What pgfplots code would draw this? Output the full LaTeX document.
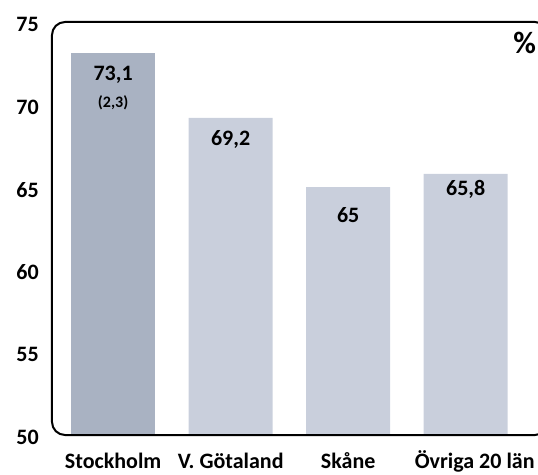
\documentclass[border=0pt]{standalone}
\usepackage{pgfplots}
\pgfplotsset{compat=1.18}
\usepackage{fontspec}
\setmainfont{Carlito}
\definecolor{barA}{RGB}{169,178,194}
\definecolor{barB}{RGB}{201,207,220}
\begin{document}
\begin{tikzpicture}
\begin{axis}[
    scale only axis,
    width=496pt, height=413pt,
    xmin=-0.52, xmax=3.70,
    ymin=50, ymax=75,
    axis line style={draw=none},
    tick style={draw=none},
    ytick={50,55,60,65,70,75},
    xtick={0,1,2,3},
    xticklabels={Stockholm, V. Götaland, Skåne, \hspace*{18pt}Övriga 20 län},
    tick label style={font=\fontsize{22}{24}\selectfont\bfseries, inner sep=0pt},
    /pgf/number format/assume math mode=true,
    yticklabel style={anchor=east, xshift=-13pt, yshift=-2.5pt},
    xticklabel style={anchor=base, yshift=-33pt},
    clip=false,
]
\addplot[ybar, bar width=84pt, bar shift=0pt, fill=barA, draw=none]
    coordinates {(0,73.1)};
\addplot[ybar, bar width=84pt, bar shift=0pt, fill=barB, draw=none]
    coordinates {(1,69.2)(2,65)(3,65.8)};
% frame
\draw[line width=2pt, rounded corners=13pt]
    (rel axis cs:0,0) rectangle (rel axis cs:1,1);
% value labels
\node[font=\fontsize{22}{24}\selectfont\bfseries] at (axis cs:0,71.8) {73,1};
\node[font=\fontsize{16}{18}\selectfont\bfseries] at (axis cs:0,70.1) {(2,3)};
\node[font=\fontsize{22}{24}\selectfont\bfseries] at (axis cs:1,67.9) {69,2};
\node[font=\fontsize{22}{24}\selectfont\bfseries] at (axis cs:2,63.3) {65};
\node[font=\fontsize{22}{24}\selectfont\bfseries] at (axis cs:3,64.85) {65,8};
\node[font=\fontsize{31}{33}\selectfont\bfseries] at (rel axis cs:0.953,0.949) {\%};
\end{axis}
\pgfresetboundingbox
\path (-52pt,-39pt) rectangle (486pt,435pt);
\end{tikzpicture}
\end{document}
